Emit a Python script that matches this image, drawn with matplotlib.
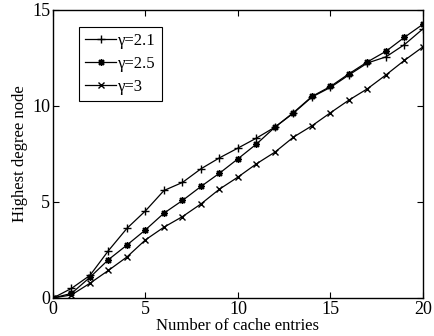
import matplotlib
matplotlib.use('Agg')
import matplotlib.pyplot as plt

entries = list(range(21))
g21 = [0, 0.5, 1.18, 2.47, 3.63, 4.54, 5.6, 6.02, 6.73, 7.3, 7.81, 8.33, 8.9,
       9.63, 10.47, 10.97, 11.62, 12.24, 12.56, 13.2, 14.02]
g25 = [0, 0.24, 1.08, 2.0, 2.76, 3.55, 4.42, 5.08, 5.81, 6.5, 7.25, 8.02, 8.9,
       9.66, 10.5, 11.02, 11.68, 12.3, 12.85, 13.58, 14.26]
g3 = [0, 0.16, 0.77, 1.44, 2.14, 3.03, 3.69, 4.24, 4.9, 5.67, 6.3, 6.99, 7.6,
      8.38, 8.97, 9.65, 10.31, 10.9, 11.62, 12.38, 13.08]

plt.rcParams['font.family'] = ['Liberation Serif', 'DejaVu Serif']

fig = plt.figure(figsize=(4.35, 3.36), dpi=100)
ax = fig.add_axes([53/435, 1-298/336, 370/435, 288/336])

ax.plot(entries, g21, 'k-', marker='+', ms=6, mew=1.0, lw=0.9, label='γ=2.1')
ax.plot(entries, g25, 'k-', marker=(8, 2, 0), ms=5, mew=1.0, lw=0.9, label='γ=2.5')
ax.plot(entries, g3, 'k-', marker='x', ms=4, mew=1.0, lw=0.9, label='γ=3')

ax.set_xlim(0, 20)
ax.set_ylim(0, 15)
ax.set_xticks([0, 5, 10, 15, 20])
ax.set_yticks([0, 5, 10, 15])
ax.tick_params(direction='in', top=True, right=True, labelsize=13, length=4, pad=2)
for s in ax.spines.values():
    s.set_linewidth(1.0)
ax.set_xlabel('Number of cache entries', fontsize=12, labelpad=0)
ax.set_ylabel('Highest degree node', fontsize=12, labelpad=3)

leg = ax.legend(loc='upper left', bbox_to_anchor=(0.07, 0.941), fontsize=12,
                fancybox=False, edgecolor='k', framealpha=1, handlelength=1.9,
                borderpad=0.35, labelspacing=0.42, handletextpad=0.1,
                borderaxespad=0)
leg.get_frame().set_linewidth(0.8)

fig.savefig('out.png', dpi=100)
